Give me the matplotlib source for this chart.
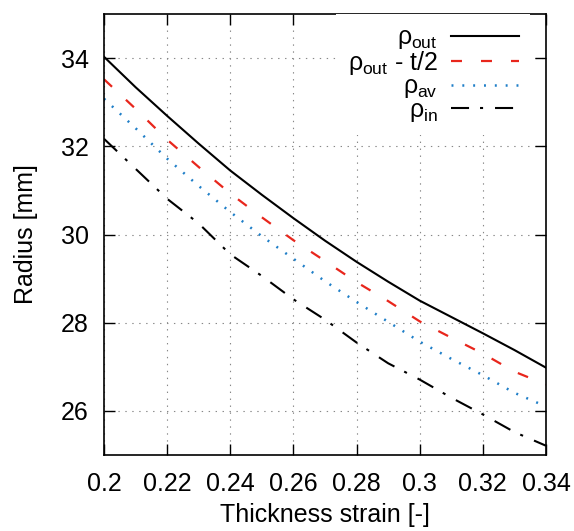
import matplotlib
import matplotlib.pyplot as plt

matplotlib.use("Agg")

# values
strain = [0.20, 0.21, 0.22, 0.23, 0.24, 0.25, 0.26, 0.27,
          0.28, 0.29, 0.30, 0.31, 0.32, 0.33, 0.34]
rho_out = [34.03, 33.34, 32.69, 32.06, 31.45, 30.90, 30.37, 29.86,
           29.38, 28.93, 28.50, 28.13, 27.76, 27.38, 26.98]
rho_half = [33.52, 32.85, 32.15, 31.53, 30.93, 30.39, 29.87, 29.40,
            28.92, 28.49, 28.03, 27.66, 27.30, 26.89, 26.60]
rho_av = [33.08, 32.41, 31.72, 31.10, 30.51, 29.96, 29.45, 28.94,
          28.47, 28.02, 27.57, 27.18, 26.81, 26.41, 26.10]
rho_in = [32.17, 31.49, 30.81, 30.25, 29.55, 29.06, 28.53, 28.07,
          27.55, 27.08, 26.71, 26.30, 25.92, 25.52, 25.21]

x_ticks = [0.20, 0.22, 0.24, 0.26, 0.28, 0.30, 0.32, 0.34]
x_tick_labels = ['0.2', '0.22', '0.24', '0.26', '0.28', '0.3', '0.32', '0.34']
y_ticks = [26, 28, 30, 32, 34]

plt.rcParams['font.family'] = ['Liberation Sans', 'DejaVu Sans']
plt.rcParams['mathtext.fontset'] = 'custom'
plt.rcParams['mathtext.rm'] = 'Liberation Sans'
plt.rcParams['mathtext.it'] = 'Liberation Sans'
plt.rcParams['mathtext.bf'] = 'Liberation Sans:bold'
plt.rcParams['lines.scale_dashes'] = False

fig = plt.figure(figsize=(5.74, 5.31), dpi=100)
ax = fig.add_axes([104 / 574, 1 - 455 / 531, 442 / 574, 441 / 531])

ax.plot(strain, rho_out, color='black', lw=1.5, label=r'$\rho_{out}$')
ax.plot(strain, rho_half, color='#e8261c', lw=1.6, dashes=(7.9, 13.7),
        label=r'$\rho_{out}$ - t/2')
ax.plot(strain, rho_av, color='#1f7fc8', lw=1.8, dashes=(1.4, 6.4),
        label=r'$\rho_{av}$')
ax.plot(strain, rho_in, color='black', lw=1.5, dashes=(13, 7.9, 2.2, 8.6),
        label=r'$\rho_{in}$')

ax.set_xlim(0.2, 0.34)
ax.set_ylim(25, 35)
ax.set_xticks(x_ticks)
ax.set_xticklabels(x_tick_labels)
ax.set_yticks(y_ticks)
ax.minorticks_off()

ax.set_axisbelow(True)
ax.grid(True, color='#888888', linestyle=(0, (1, 4)), lw=0.8)
ax.tick_params(direction='in', top=True, right=True, length=8, width=1,
               labelsize=18)
ax.tick_params(axis='x', pad=12)
ax.tick_params(axis='y', pad=11)
for s in ax.spines.values():
    s.set_linewidth(1.2)

ax.set_xlabel('Thickness strain [-]', fontsize=18, labelpad=5)
ax.set_ylabel('Radius [mm]', fontsize=18, labelpad=16)

ax.legend(loc='upper right', bbox_to_anchor=(1 - 16 / 442, 1),
          markerfirst=False, frameon=True, fancybox=False,
          edgecolor='none', facecolor='white', framealpha=1, fontsize=18,
          handlelength=2.7, handletextpad=0.55, labelspacing=-0.1,
          borderaxespad=0.0, borderpad=0.45)

fig.savefig('out.png', dpi=100)
